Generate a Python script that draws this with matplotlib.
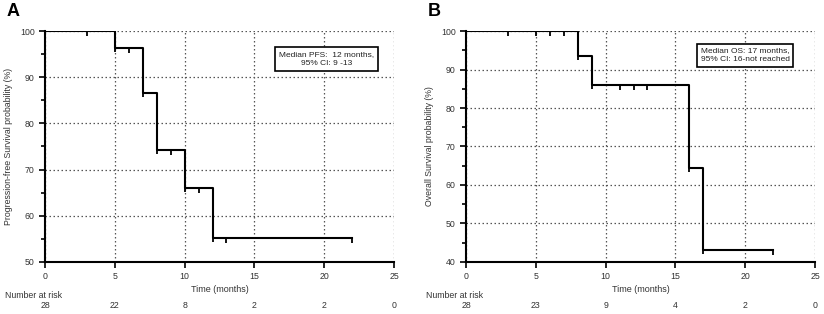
import numpy as np
import matplotlib.pyplot as plt
from matplotlib.ticker import MultipleLocator

plt.rcParams['font.family'] = ['Liberation Sans', 'DejaVu Sans']

# panel A: progression-free survival
pfs_t = [0, 5, 7, 8, 10, 12, 22]
pfs_s = [100, 96.4, 86.5, 74.3, 66.1, 55.2, 55.2]
pfs_cens = [3, 6, 9, 11, 13, 22]
pfs_risk = [28, 22, 8, 2, 2, 0]

# panel B: overall survival
os_t = [0, 8, 9, 16, 17, 22]
os_s = [100, 93.6, 85.9, 64.4, 43.0, 43.0]
os_cens = [3, 5, 6, 7, 11, 12, 13, 22]
os_risk = [28, 23, 9, 4, 2, 0]

risk_times = [0, 5, 10, 15, 20, 25]

fig = plt.figure(figsize=(8.24, 3.14), dpi=100)

tick_down = [(0, 0), (0, -1)]


def km_panel(ax, t, s, cens, risk, ylo, ylabel, note, note_x, note_y, letter):
    ax.step(t, s, where='post', color='black', lw=1.5, zorder=3)
    # censor marks and drop ends as short downward ticks
    cs = [s[np.searchsorted(t, c, side='right') - 1] for c in cens]
    ax.plot(cens, cs, ls='none', marker=tick_down, ms=7, mew=1.3,
            color='black', zorder=3)
    ax.plot(t[1:-1], s[1:-1], ls='none', marker=tick_down, ms=6, mew=1.3,
            color='black', zorder=3)
    ax.set_xlim(0, 25)
    ax.set_ylim(ylo, 100)
    ax.xaxis.set_major_locator(MultipleLocator(5))
    ax.yaxis.set_major_locator(MultipleLocator(10))
    ax.yaxis.set_minor_locator(MultipleLocator(5))
    for sp in ['top', 'right']:
        ax.spines[sp].set_visible(False)
    for sp in ['left', 'bottom']:
        ax.spines[sp].set_linewidth(1.5)
    ax.tick_params(which='both', direction='out', width=1.2, labelsize=6.3,
                   labelcolor='#333333')
    ax.tick_params(which='major', length=4)
    ax.tick_params(which='minor', length=3)
    ax.grid(True, which='major', ls=(0, (1.2, 2)), color='#555555', lw=0.9)
    ax.set_axisbelow(True)
    ax.set_xlabel('Time (months)', fontsize=6.5, color='#333333', labelpad=3)
    ax.set_ylabel(ylabel, fontsize=6.3, color='#333333', labelpad=5)
    ax.text(note_x, note_y, note, transform=ax.transAxes, fontsize=6,
            ha='center', va='center', color='#222222', linespacing=1.4,
            bbox=dict(boxstyle='square,pad=0.45', fc='white', ec='black', lw=1.2))
    ax.text(-0.115, -0.147, 'Number at risk', transform=ax.transAxes,
            fontsize=6.3, color='#333333', ha='left', va='center')
    for rt, n in zip(risk_times, risk):
        ax.text(rt, -0.187, str(n), transform=ax.get_xaxis_transform(),
                fontsize=6.3, color='#333333', ha='center', va='center')
    ax.text(-0.11, 1.087, letter, transform=ax.transAxes, fontsize=13,
            fontweight='bold', ha='left', va='center')


axA = fig.add_axes([0.0546, 0.166, 0.4236, 0.735])
km_panel(axA, pfs_t, pfs_s, pfs_cens, pfs_risk, 50,
         'Progression-free Survival probability (%)',
         'Median PFS:  12 months,\n95% CI: 9 -13', 0.807, 0.879, 'A')

axB = fig.add_axes([0.5655, 0.166, 0.4236, 0.735])
km_panel(axB, os_t, os_s, os_cens, os_risk, 40,
         'Overall Survival probability (%)',
         'Median OS: 17 months,\n95% CI: 16-not reached', 0.8, 0.895, 'B')

fig.savefig('out.png', dpi=100)
